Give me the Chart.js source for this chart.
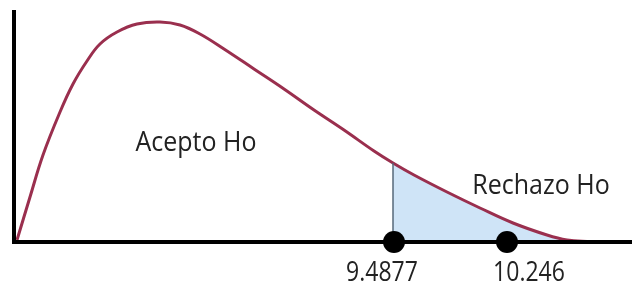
<!DOCTYPE html>
<html>
<head>
<meta charset="utf-8">
<script src="https://cdn.jsdelivr.net/npm/chart.js@4.4.0/dist/chart.umd.min.js"></script>
<style>
  body { margin: 0; background: #fff; }
  canvas { display: block; }
</style>
</head>
<body>
<canvas id="chi" width="632" height="289"></canvas>
<script>
// curve (x, y in arbitrary units)
var curveX = [3, 16, 29, 46, 59, 73, 86, 103, 123, 146, 166, 186, 210, 240, 270, 300, 330, 360, 379, 400, 433, 466, 499, 533, 553, 573, 596];
var curveY = [2, 45, 87, 130, 158, 181, 198, 210, 218, 220, 217, 208, 193, 173, 153, 132, 112, 91, 79, 67, 50, 34, 19, 7, 2, 0.5, 0];
var critStart = 379;            // where the shaded tail begins
var dotX = [380, 493];          // black markers on the axis
var dotLabels = ['9.4877', '10.246'];
var labelX = [368, 515];        // where the labels sit under the markers
var regionText = ['Acepto Ho', 'Rechazo Ho'];
var regionX = [182, 527];
var regionY = [99, 56];

var curve = curveX.map(function (x, i) { return { x: x, y: curveY[i] }; });
var tail = curve.filter(function (p) { return p.x >= critStart; });
var startY = tail[0].y;

function stretchedText(ctx, t, x, y, sy) {
    ctx.save();
    ctx.translate(x, y);
    ctx.scale(1, sy);
    ctx.fillText(t, 0, 0);
    ctx.restore();
}

var textPlugin = {
    id: 'texts',
    afterDraw: function (chart) {
        var ctx = chart.ctx, xs = chart.scales.x, ys = chart.scales.y;
        ctx.save();
        ctx.fillStyle = '#222';
        ctx.textAlign = 'center';
        ctx.textBaseline = 'middle';
        ctx.font = '25px "Open Sans"';
        regionText.forEach(function (t, i) {
            stretchedText(ctx, t, xs.getPixelForValue(regionX[i]), ys.getPixelForValue(regionY[i]), 1.06);
        });
        ctx.font = '23px "Open Sans"';
        dotLabels.forEach(function (t, i) {
            stretchedText(ctx, t, xs.getPixelForValue(labelX[i]), ys.getPixelForValue(0) + 31, 1.15);
        });
        ctx.restore();
    }
};

var config = {
    type: 'scatter',
    data: {
        datasets: [
            {
                label: 'dots',
                data: dotX.map(function (x) { return { x: x, y: 0 }; }),
                pointRadius: 11,
                pointBackgroundColor: '#000',
                pointBorderWidth: 0,
                showLine: false,
                clip: false,
                order: 0
            },
            {
                label: 'axes',
                data: [{ x: 0, y: 232 }, { x: 0, y: 0 }, { x: 618, y: 0 }],
                showLine: true,
                borderColor: '#000',
                borderWidth: 4,
                pointRadius: 0,
                tension: 0,
                clip: false,
                order: 1
            },
            {
                label: 'critical',
                data: [{ x: critStart, y: 0 }, { x: critStart, y: startY }],
                showLine: true,
                borderColor: '#56687a',
                borderWidth: 1.5,
                pointRadius: 0,
                tension: 0,
                order: 2
            },
            {
                label: 'curve',
                data: curve,
                showLine: true,
                borderColor: '#9a2f4e',
                borderWidth: 3,
                pointRadius: 0,
                tension: 0.4,
                clip: false,
                order: 3
            },
            {
                label: 'tail',
                data: tail,
                showLine: true,
                borderWidth: 0,
                borderColor: 'rgba(0,0,0,0)',
                backgroundColor: '#cfe4f7',
                fill: 'origin',
                pointRadius: 0,
                tension: 0.4,
                order: 4
            }
        ]
    },
    options: {
        responsive: false,
        animation: false,
        layout: { autoPadding: false, padding: { left: 14, top: 10, right: 0, bottom: 47 } },
        plugins: { legend: { display: false }, tooltip: { enabled: false } },
        scales: {
            x: { type: 'linear', min: 0, max: 618, display: false },
            y: { type: 'linear', min: 0, max: 232, display: false }
        }
    },
    plugins: [textPlugin]
};

window.onload = function () {
    var ctx = document.getElementById('chi').getContext('2d');
    window.myChart = new Chart(ctx, config);
};
</script>
</body>
</html>
